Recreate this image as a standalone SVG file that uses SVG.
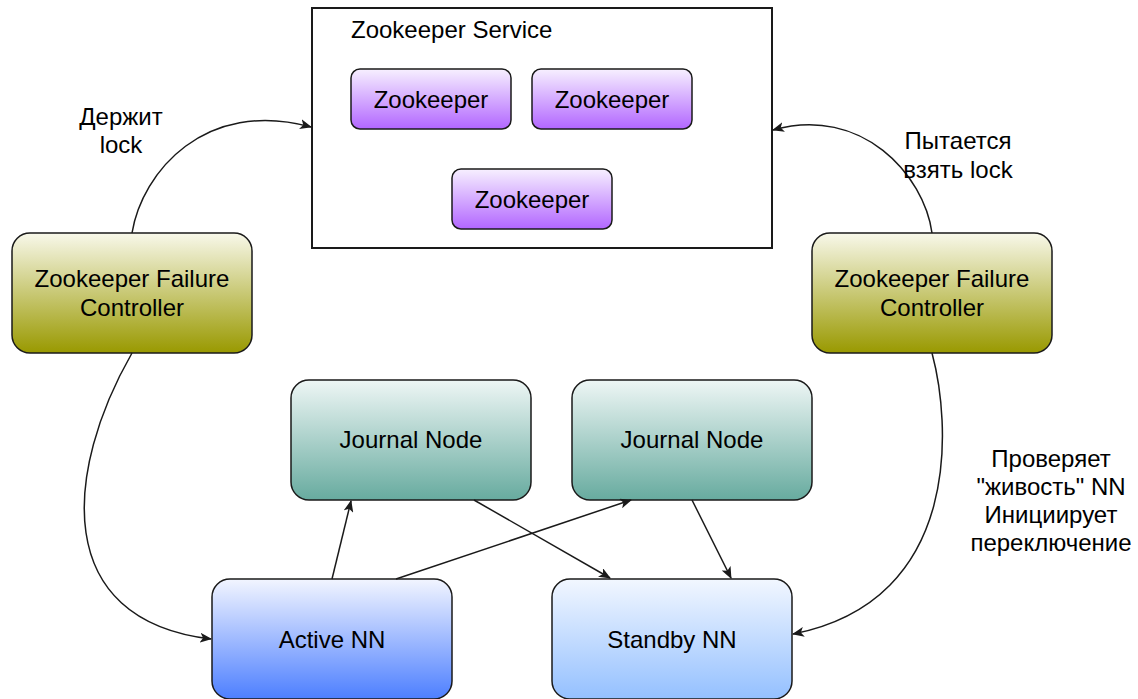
<svg xmlns="http://www.w3.org/2000/svg" width="1138" height="699" viewBox="0 0 1138 699">
<style>
text{font-family:"Liberation Sans",Arial,sans-serif;font-size:24px;fill:#000;text-anchor:middle}
.box{stroke:#1a1a1a;stroke-width:1.5}
.conn{fill:none;stroke:#1a1a1a;stroke-width:1.5}
</style>
<defs>
<linearGradient id="gPurple" x1="0" y1="0" x2="0" y2="1"><stop offset="0" stop-color="#F7F0FF"/><stop offset="1" stop-color="#B266FF"/></linearGradient>
<linearGradient id="gOlive" x1="0" y1="0" x2="0" y2="1"><stop offset="0" stop-color="#F8F8EA"/><stop offset="1" stop-color="#999900"/></linearGradient>
<linearGradient id="gTeal" x1="0" y1="0" x2="0" y2="1"><stop offset="0" stop-color="#EEF6F5"/><stop offset="1" stop-color="#67AB9F"/></linearGradient>
<linearGradient id="gBlue" x1="0" y1="0" x2="0" y2="1"><stop offset="0" stop-color="#F2F5FF"/><stop offset="1" stop-color="#4D7FFF"/></linearGradient>
<linearGradient id="gLight" x1="0" y1="0" x2="0" y2="1"><stop offset="0" stop-color="#F2F7FF"/><stop offset="1" stop-color="#94C0FF"/></linearGradient>
<marker id="arr" viewBox="0 0 12 10" refX="11" refY="5" markerWidth="12" markerHeight="10" markerUnits="userSpaceOnUse" orient="auto">
<path d="M0,0 L12,5 L0,10 L3,5 Z" fill="#1a1a1a"/>
</marker>
</defs>

<g id="zk-service">
<rect x="312" y="8" width="460" height="240" fill="#fff" stroke="#1a1a1a" stroke-width="2"/>
<text x="351" y="38" style="text-anchor:start">Zookeeper Service</text>
</g>
<g id="zk1"><rect class="box" x="351" y="69" width="160" height="60" rx="9" fill="url(#gPurple)"/><text x="431" y="108">Zookeeper</text></g>
<g id="zk2"><rect class="box" x="532" y="69" width="160" height="60" rx="9" fill="url(#gPurple)"/><text x="612" y="108">Zookeeper</text></g>
<g id="zk3"><rect class="box" x="452" y="169" width="160" height="60" rx="9" fill="url(#gPurple)"/><text x="532" y="208">Zookeeper</text></g>

<g id="zkfc-left"><rect class="box" x="12" y="233" width="240" height="120" rx="18" fill="url(#gOlive)"/><text x="132" y="287">Zookeeper Failure</text><text x="132" y="316">Controller</text></g>
<g id="zkfc-right"><rect class="box" x="812" y="233" width="240" height="120" rx="18" fill="url(#gOlive)"/><text x="932" y="287">Zookeeper Failure</text><text x="932" y="316">Controller</text></g>

<g id="journal1"><rect class="box" x="291" y="380" width="240" height="120" rx="18" fill="url(#gTeal)"/><text x="411" y="448">Journal Node</text></g>
<g id="journal2"><rect class="box" x="572" y="380" width="240" height="120" rx="18" fill="url(#gTeal)"/><text x="692" y="448">Journal Node</text></g>

<g id="active-nn"><rect class="box" x="212" y="579" width="240" height="120" rx="18" fill="url(#gBlue)"/><text x="332" y="648">Active NN</text></g>
<g id="standby-nn"><rect class="box" x="552" y="579" width="240" height="120" rx="18" fill="url(#gLight)"/><text x="672" y="648">Standby NN</text></g>

<g id="connectors">
<path class="conn" d="M132,233 C142,172 205,98 311,127" marker-end="url(#arr)"/>
<path class="conn" d="M132,353 C65,470 50,620 211,639" marker-end="url(#arr)"/>
<path class="conn" d="M932,233 C924,175 862,105 773,130" marker-end="url(#arr)"/>
<path class="conn" d="M932,353 C950,420 965,600 793,634" marker-end="url(#arr)"/>
<path class="conn" d="M332,579 L351,501" marker-end="url(#arr)"/>
<path class="conn" d="M396,579 L631,500" marker-end="url(#arr)"/>
<path class="conn" d="M474,500 L610,578" marker-end="url(#arr)"/>
<path class="conn" d="M692,500 L731,578" marker-end="url(#arr)"/>
</g>

<g id="labels">
<text x="121" y="125">Держит</text>
<text x="121" y="153">lock</text>
<text x="958" y="149">Пытается</text>
<text x="958" y="178">взять lock</text>
<text x="1051" y="467">Проверяет</text>
<text x="1051" y="495">"живость" NN</text>
<text x="1051" y="523">Инициирует</text>
<text x="1051" y="551">переключение</text>
</g>
</svg>
